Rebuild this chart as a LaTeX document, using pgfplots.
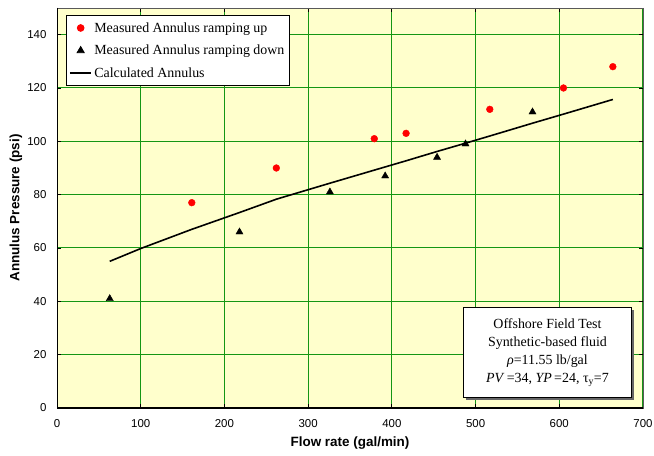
\documentclass[border=0pt]{standalone}
\usepackage{pgfplots}
\pgfplotsset{compat=1.18}
\usepackage{fontspec}
\setmainfont{Liberation Serif}
\setsansfont{Liberation Sans}
\usetikzlibrary{shadows}
\definecolor{bgyellow}{RGB}{255,255,204}
\definecolor{gridgreen}{RGB}{20,150,20}
\definecolor{ptred}{RGB}{255,0,0}
\pgfplotsset{
  markleg/.style={legend image code/.code={\draw[mark repeat=2,mark phase=2,##1] plot coordinates {(0bp,0bp) (10.8bp,0bp) (21.6bp,0bp)};}},
  lineleg/.style={legend image code/.code={\draw[##1] (0bp,0bp) -- (21.6bp,0bp);}},
}
\begin{document}
\begin{tikzpicture}
\path[use as bounding box] (-57bp,-48bp) rectangle (597bp,408bp);
\begin{axis}[
  scale only axis,
  width=586bp, height=400bp,
  at={(0,0)}, anchor=south west,
  xmin=0, xmax=700, ymin=0, ymax=150,
  xtick={0,100,...,700},
  ytick={0,20,...,140},
  grid=major,
  major grid style={draw=gridgreen, line width=1bp},
  axis background/.style={fill=bgyellow},
  axis line style={draw=gray!70!black, line width=0.8bp},
  tick align=inside,
  major tick length=4bp,
  tick style={black, line width=0.8bp},
  /pgf/number format/assume math mode=true,
  ticklabel style={font=\sffamily\fontsize{11.5}{13}\selectfont},
  yticklabel style={xshift=-7bp},
  xticklabel style={yshift=-8bp},
  xlabel={Flow rate (gal/min)},
  ylabel={Annulus Pressure (psi)},
  label style={font=\sffamily\bfseries\fontsize{13.5}{15}\selectfont},
  x label style={at={(axis description cs:0.5,-0.0875)}, anchor=center},
  y label style={at={(axis description cs:-0.07,0.5)}, anchor=center},
  legend cell align=left,
  legend style={
    at={(0.0148,0.9825)}, anchor=north west,
    draw=black, line width=0.8bp, fill=white,
    font=\fontsize{14}{16}\selectfont,
    inner xsep=3bp, inner ysep=5bp,
    row sep=7.5bp,
  },
]
\addplot[only marks, mark=*, mark size=3.4bp, color=ptred, markleg]
  coordinates {
  (161,77) (262,90) (379,101) (417,103) (517,112) (605,120) (664,128)
};
\addlegendentry{Measured Annulus ramping up}
\addplot[only marks, mark=triangle*, mark size=4.1bp, color=black, markleg]
  coordinates {
  (63,41) (218,66) (326,81) (392,87) (454,94) (488,99) (568,111)
};
\addlegendentry{Measured Annulus ramping down}
\addplot[black, line width=1.6bp, no marks, lineleg] coordinates {
  (63,55) (100,59.8) (161,67) (218,73.3) (262,78.3) (326,84.3)
  (379,89.2) (417,92.7) (454,96.2) (488,99.3) (517,102) (568,106.8)
  (605,110.2) (664,115.7)
};
\addlegendentry{Calculated Annulus}
\draw[black, line width=1.5bp] (rel axis cs:0,1) -- (rel axis cs:0,0) -- (rel axis cs:1,0);
\node[draw=black, line width=0.8bp, fill=white,
  drop shadow={shadow xshift=2.5bp, shadow yshift=-2.5bp, fill=gray!80!black, opacity=1},
  minimum width=168bp, minimum height=89.6bp, align=center,
  font=\fontsize{14}{18}\selectfont, anchor=center]
  at (rel axis cs:0.837,0.1388)
  {Offshore Field Test\\ Synthetic-based fluid\\ \textit{ρ}=11.55 lb/gal\\ \textit{PV}\,=34, \textit{YP}\,=24, τ\textsubscript{y}=7};
\end{axis}
\end{tikzpicture}
\end{document}
